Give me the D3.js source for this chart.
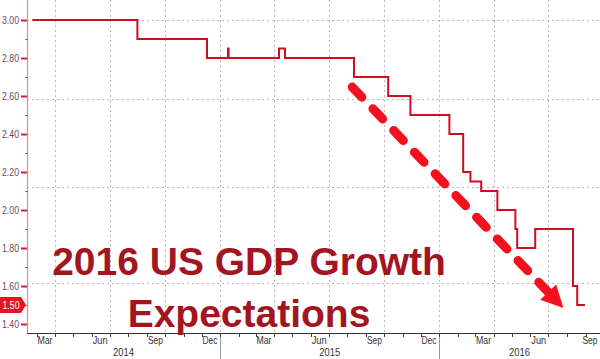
<!DOCTYPE html>
<html>
<head>
<meta charset="utf-8">
<script src="https://cdn.jsdelivr.net/npm/d3@7"></script>
<style>
  html, body { margin: 0; padding: 0; background: #fff; }
  svg { display: block; }
</style>
</head>
<body>
<script>
// ---------- data ----------
const stepDates = [
  "2014-02-22", "2014-08-16", "2014-12-10", "2015-01-14", "2015-01-15",
  "2015-04-09", "2015-04-19", "2015-08-12", "2015-10-08", "2015-11-14",
  "2016-01-18", "2016-02-10", "2016-02-22", "2016-03-11", "2016-04-07",
  "2016-05-07", "2016-05-10", "2016-06-09", "2016-08-11", "2016-08-18",
  "2016-08-31"
];
const stepValues = [
  3.00, 2.90, 2.80, 2.85, 2.80,
  2.85, 2.80, 2.70, 2.60, 2.50,
  2.40, 2.20, 2.15, 2.10, 2.00,
  1.90, 1.80, 1.90, 1.60, 1.50,
  1.50
];
const lastValue = 1.50;
const yTicks = [3.00, 2.80, 2.60, 2.40, 2.20, 2.00, 1.80, 1.60, 1.40];
const yMinorTicks = [2.90, 2.70, 2.50, 2.30, 2.10, 1.90, 1.70, 1.50];
const yGrid = [3.00, 2.585, 2.12, 1.615];
const monthLabelDates = [
  "2014-03-15", "2014-06-15", "2014-09-15", "2014-12-15",
  "2015-03-15", "2015-06-15", "2015-09-15", "2015-12-15",
  "2016-03-15", "2016-06-15", "2016-09-15"
];
const monthLabels = ["Mar", "Jun", "Sep", "Dec", "Mar", "Jun", "Sep", "Dec", "Mar", "Jun", "Sep"];
const years = ["2014", "2015", "2016"];
const titleLines = ["2016 US GDP Growth", "Expectations"];
const arrowStart = ["2015-08-09", 2.647];
const arrowTip = ["2016-07-26", 1.484];

// ---------- layout ----------
const W = 600, H = 359;
const parse = d3.timeParse("%Y-%m-%d");
const xDomain = [parse("2014-02-13"), parse("2016-09-25")];
const axisX = 27, axisY = 333;
const labelFont = "'Liberation Sans',Arial,sans-serif";

const x = d3.scaleTime().domain(xDomain).range([axisX, 600]);
const y = d3.scaleLinear().domain([1.40, 3.00]).range([324, 20]);

const svg = d3.select("body").append("svg")
  .attr("width", W).attr("height", H)
  .style("font-family", labelFont);

svg.append("rect").attr("width", W).attr("height", H).attr("fill", "#fff");

// vertical gridlines at quarter ends
const quarterEnds = d3.timeMonths(xDomain[0], xDomain[1]).filter(d => d.getMonth() % 3 === 0);
svg.append("g").selectAll("line").data(quarterEnds).join("line")
  .attr("x1", d => Math.round(x(d)) + 0.5).attr("x2", d => Math.round(x(d)) + 0.5)
  .attr("y1", 0).attr("y2", axisY)
  .attr("stroke", "#b8b8b8").attr("stroke-width", 1).attr("stroke-dasharray", "2,3");

// horizontal gridlines
svg.append("g").selectAll("line").data(yGrid).join("line")
  .attr("x1", axisX).attr("x2", W)
  .attr("y1", d => Math.round(y(d)) + 0.5).attr("y2", d => Math.round(y(d)) + 0.5)
  .attr("stroke", "#b8b8b8").attr("stroke-width", 1).attr("stroke-dasharray", "2,3");

// y axis
const yAxis = d3.axisLeft(y).tickValues(yTicks).tickFormat(d3.format(".2f")).tickSize(6).tickPadding(2);
const gy = svg.append("g").attr("transform", `translate(${axisX},0)`).call(yAxis);
gy.select(".domain").remove();
gy.selectAll(".tick line").attr("stroke", "#d81a2a").attr("stroke-width", 2);
gy.selectAll(".tick text").attr("fill", "#6e4a58").style("font-size", "11px")
  .style("font-family", labelFont)
  .attr("textLength", 17).attr("lengthAdjust", "spacingAndGlyphs");
svg.append("line").attr("x1", axisX + 0.5).attr("x2", axisX + 0.5).attr("y1", 0).attr("y2", axisY)
  .attr("stroke", "#e48a96").attr("stroke-width", 1.2);
svg.append("g").selectAll("line").data(yMinorTicks).join("line")
  .attr("x1", axisX - 2).attr("x2", axisX + 1)
  .attr("y1", d => Math.round(y(d)) + 0.5).attr("y2", d => Math.round(y(d)) + 0.5)
  .attr("stroke", "#777").attr("stroke-width", 1);

// x axis
svg.append("line").attr("x1", axisX).attr("x2", W).attr("y1", axisY + 0.5).attr("y2", axisY + 0.5)
  .attr("stroke", "#333").attr("stroke-width", 1);
const months = d3.timeMonths(xDomain[0], xDomain[1]);
svg.append("g").selectAll("line").data(months).join("line")
  .attr("x1", d => Math.round(x(d)) + 0.5).attr("x2", d => Math.round(x(d)) + 0.5)
  .attr("y1", axisY).attr("y2", axisY + 4)
  .attr("stroke", "#444").attr("stroke-width", 1);
svg.append("g").selectAll("text").data(monthLabelDates).join("text")
  .attr("x", d => Math.min(x(parse(d)), 590)).attr("y", axisY + 11)
  .attr("text-anchor", "middle").attr("fill", "#333").style("font-size", "10.5px")
  .attr("textLength", 15).attr("lengthAdjust", "spacingAndGlyphs")
  .text((d, i) => monthLabels[i]);

// year separators and labels
const yearStarts = years.map(yv => parse(yv + "-01-01"));
svg.append("g").selectAll("line").data(yearStarts.filter(d => d > xDomain[0])).join("line")
  .attr("x1", d => Math.round(x(d)) + 0.5).attr("x2", d => Math.round(x(d)) + 0.5)
  .attr("y1", axisY + 4).attr("y2", H)
  .attr("stroke", "#999").attr("stroke-width", 1);
svg.append("g").selectAll("text").data(years).join("text")
  .attr("x", yv => {
    const a = Math.max(x(parse(yv + "-01-01")), axisX);
    const b = Math.min(x(parse((+yv + 1) + "-01-01")), W);
    return (a + b) / 2;
  })
  .attr("y", axisY + 23)
  .attr("text-anchor", "middle").attr("fill", "#333").style("font-size", "10.5px")
  .attr("textLength", 21).attr("lengthAdjust", "spacingAndGlyphs")
  .text(d => d);

// step line
const pts = stepDates.map((d, i) => [parse(d), stepValues[i]]);
const line = d3.line().x(d => x(d[0])).y(d => y(d[1])).curve(d3.curveStepAfter);
svg.append("path").datum(pts).attr("d", line)
  .attr("fill", "none").attr("stroke", "#cc1020").attr("stroke-width", 2);

// last-value tag
const ly = y(lastValue);
svg.append("path")
  .attr("d", `M0,${ly - 8}L${axisX - 6},${ly - 8}L${axisX - 1},${ly}L${axisX - 6},${ly + 8}L0,${ly + 8}Z`)
  .attr("fill", "#e8141e");
svg.append("text").attr("x", 11).attr("y", ly + 4).attr("text-anchor", "middle")
  .attr("fill", "#fff").style("font-size", "11px")
  .attr("textLength", 17).attr("lengthAdjust", "spacingAndGlyphs")
  .text(d3.format(".2f")(lastValue));

// title text
const title = svg.append("g").attr("fill", "#a3151f")
  .style("font-family", labelFont).style("font-weight", "bold").style("font-size", "39px");
title.append("text").attr("x", 249).attr("y", 275).attr("text-anchor", "middle").text(titleLines[0]);
title.append("text").attr("x", 249).attr("y", 327).attr("text-anchor", "middle").text(titleLines[1]);

// arrow annotation
const ax0 = x(parse(arrowStart[0])), ay0 = y(arrowStart[1]);
const ax1 = x(parse(arrowTip[0])), ay1 = y(arrowTip[1]);
const dx = ax1 - ax0, dy = ay1 - ay0, len = Math.hypot(dx, dy);
const ux = dx / len, uy = dy / len;
const headLen = 22, headHalf = 11;
const bx = ax1 - ux * headLen, by = ay1 - uy * headLen;
svg.append("line").attr("x1", ax0).attr("y1", ay0).attr("x2", bx).attr("y2", by)
  .attr("stroke", "#f4101c").attr("stroke-width", 9)
  .attr("stroke-dasharray", "14,16").attr("stroke-linecap", "round");
svg.append("path")
  .attr("d", `M${ax1},${ay1}L${bx - uy * headHalf},${by + ux * headHalf}L${bx + uy * headHalf},${by - ux * headHalf}Z`)
  .attr("fill", "#f4101c");
</script>
</body>
</html>
